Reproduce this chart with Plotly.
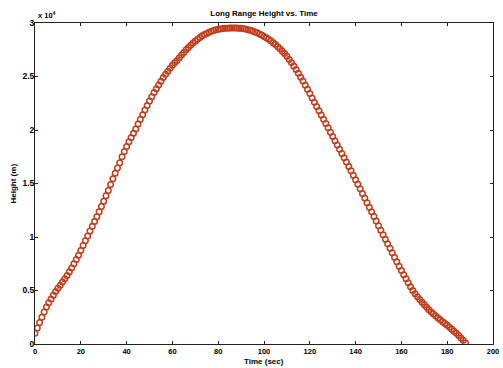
import plotly.graph_objects as go

time_sec = list(range(0, 189))

height_m = [
    1000, 1500, 2000, 2500, 3000, 3450, 3850, 4200, 4550, 4900,
    5200, 5500, 5800, 6100, 6400, 6750, 7100, 7500, 7900, 8300,
    8750, 9200, 9650, 10100, 10550, 11000, 11450, 11900, 12350, 12850,
    13350, 13850, 14350, 14900, 15450, 15950, 16450, 16950, 17500, 18000,
    18450, 18900, 19300, 19700, 20100, 20550, 21000, 21430, 21860, 22280,
    22700, 23100, 23500, 23850, 24200, 24550, 24900, 25200, 25500, 25780,
    26040, 26280, 26500, 26750, 27000, 27250, 27500, 27720, 27930, 28130,
    28320, 28490, 28650, 28800, 28920, 29030, 29130, 29220, 29300, 29360,
    29410, 29450, 29480, 29500, 29520, 29530, 29540, 29540, 29530, 29520,
    29500, 29470, 29430, 29380, 29320, 29250, 29170, 29080, 28980, 28870,
    28750, 28620, 28480, 28330, 28160, 27980, 27790, 27590, 27370, 27140,
    26900, 26600, 26300, 25980, 25650, 25300, 24940, 24570, 24190, 23800,
    23400, 23000, 22600, 22200, 21800, 21400, 21000, 20600, 20200, 19800,
    19400, 19000, 18600, 18200, 17800, 17400, 17000, 16600, 16180, 15760,
    15340, 14920, 14500, 14070, 13640, 13210, 12780, 12350, 11920, 11490,
    11060, 10630, 10200, 9780, 9360, 8940, 8520, 8100, 7680, 7270,
    6860, 6470, 6090, 5720, 5360, 5000, 4700, 4420, 4150, 3900,
    3660, 3430, 3210, 3000, 2800, 2610, 2430, 2260, 2090, 1920,
    1750, 1570, 1390, 1200, 1000, 790, 570, 340, 100,
]

x_ticks = [0, 20, 40, 60, 80, 100, 120, 140, 160, 180, 200]
y_ticks = [0, 5000, 10000, 15000, 20000, 25000, 30000]
y_tick_text = ["0", "0.5", "1", "1.5", "2", "2.5", "3"]

FONT = "Liberation Sans, Arial, sans-serif"
TXT = "#000000"

fig = go.Figure()
fig.add_trace(go.Scatter(
    x=time_sec, y=height_m, mode="markers",
    marker=dict(symbol="circle-open", size=5.5,
                line=dict(color="rgb(192,62,28)", width=1.5),
                color="rgb(192,62,28)"),
    showlegend=False, hoverinfo="skip",
))

axis_common = dict(
    showgrid=False, zeroline=False, showline=True, mirror="ticks",
    linecolor="#222222", linewidth=1, ticks="inside", ticklen=3,
    tickcolor="#222222", tickwidth=1, automargin=False,
)

fig.update_layout(
    width=503, height=368,
    margin=dict(l=35, r=10, t=23, b=24, pad=0),
    paper_bgcolor="white", plot_bgcolor="white",
    title=dict(text="<b>Long Range Height vs. Time</b>",
               font=dict(family=FONT, size=8, color=TXT),
               x=0.5, xref="paper", xanchor="center",
               y=1 - 13 / 368, yref="container", yanchor="middle"),
    xaxis=dict(range=[0, 200], tickvals=x_ticks,
               ticktext=[f"<b>{v}</b>" for v in x_ticks],
               tickfont=dict(family=FONT, size=7.5, color=TXT),
               **axis_common),
    yaxis=dict(range=[0, 30000], tickvals=y_ticks,
               ticktext=[f"<b>{t}</b>" for t in y_tick_text],
               ticklabelstandoff=-2,
               tickfont=dict(family=FONT, size=8.5, color=TXT),
               **axis_common),
    annotations=[
        dict(text="<b>x 10<sup>4</sup></b>", xref="paper", yref="paper",
             x=0, y=1, xanchor="left", yanchor="bottom", yshift=1, xshift=1,
             showarrow=False, font=dict(family=FONT, size=7.5, color=TXT)),
        dict(text="<b>Time (sec)</b>", xref="paper", yref="paper",
             x=0.5, y=0, xanchor="center", yanchor="middle", yshift=-17.5,
             showarrow=False, font=dict(family=FONT, size=8, color=TXT)),
        dict(text="<b>Height (m)</b>", xref="paper", yref="paper",
             x=0, y=0.5, xanchor="center", yanchor="middle", xshift=-22,
             textangle=-90,
             showarrow=False, font=dict(family=FONT, size=8, color=TXT)),
    ],
)

fig.write_html(
    "out.html",
    config={"displayModeBar": False, "staticPlot": True},
    post_script="document.body.style.margin='0px';document.body.style.overflow='hidden';",
)
